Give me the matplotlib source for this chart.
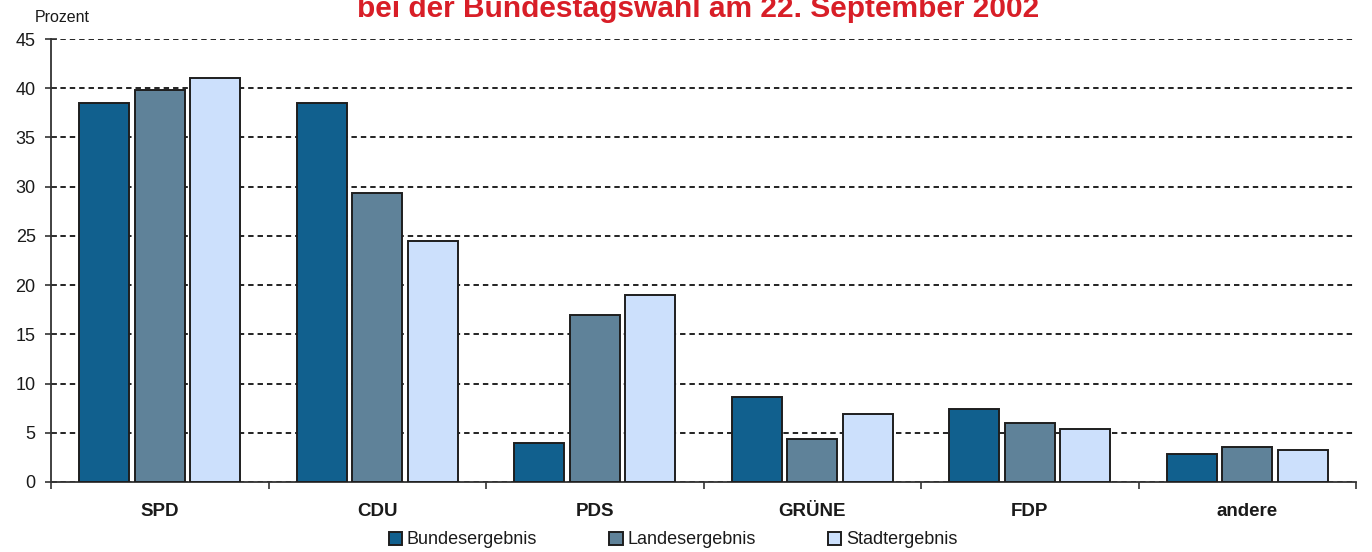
import matplotlib
matplotlib.use("Agg")
import matplotlib.pyplot as plt
import numpy as np

categories = ["SPD", "CDU", "PDS", "GRÜNE", "FDP", "andere"]
series_names = ["Bundesergebnis", "Landesergebnis", "Stadtergebnis"]
bundes = [38.5, 38.5, 4.0, 8.6, 7.4, 2.8]
landes = [39.8, 29.4, 17.0, 4.4, 6.0, 3.6]
stadt = [41.0, 24.5, 19.0, 6.9, 5.4, 3.3]
colors = ["#11608E", "#5F8299", "#CCE0FC"]
yticks = [0, 5, 10, 15, 20, 25, 30, 35, 40, 45]
title = "bei der Bundestagswahl am 22. September 2002"
ylabel = "Prozent"

plt.rcParams["font.family"] = ["Liberation Sans", "DejaVu Sans"]

fig = plt.figure(figsize=(13.72, 5.52), dpi=100)
ax = fig.add_axes([51/1372, 70/552, (1356-51)/1372, (482-39)/552])

x = np.arange(len(categories))
w = 0.23
off = 0.255
for i, (vals, c, name) in enumerate(zip([bundes, landes, stadt], colors, series_names)):
    ax.bar(x + (i - 1) * off, vals, width=w, color=c, edgecolor="#1e1e1e",
           linewidth=1.4, label=name, zorder=3)

ax.set_xlim(-0.5, len(categories) - 0.5)
ax.set_ylim(0, 45)
ax.set_yticks(yticks)
ax.yaxis.grid(True, color="#111111", linestyle=(0, (3, 2.2)), linewidth=1.3, zorder=0)
ax.set_axisbelow(True)

ax.set_xticks(x)
ax.set_xticklabels(categories, fontsize=13.5, fontweight="bold", color="#1a1a1a")
ax.tick_params(axis="x", which="major", length=0, pad=15)
ax.set_xticks(np.arange(-0.5, len(categories), 1.0), minor=True)
ax.tick_params(axis="x", which="minor", length=5, width=1.2, color="#333333", direction="out")
ax.tick_params(axis="y", direction="inout", length=8, width=1.2, color="#333333",
               labelsize=13, labelcolor="#1a1a1a", pad=7)

for s in ["top", "right"]:
    ax.spines[s].set_visible(False)
for s in ["left", "bottom"]:
    ax.spines[s].set_color("#333333")
    ax.spines[s].set_linewidth(1.3)

fig.text(35/1372, 1 - 17/552, ylabel, fontsize=11.5, color="#1a1a1a", ha="left", va="center")
fig.text(698/1372, 1 - 17/552, title, fontsize=21.5, fontweight="bold", color="#D81E27",
         ha="center", va="baseline")

leg = fig.legend(loc="center", bbox_to_anchor=(673/1372, 1 - 540/552), ncol=3,
                 frameon=False, fontsize=13, handlelength=0.75, handleheight=0.75,
                 handletextpad=0.25, columnspacing=4.0, borderaxespad=0)
for t in leg.get_texts():
    t.set_color("#1a1a1a")

fig.savefig("out.png", dpi=100)
